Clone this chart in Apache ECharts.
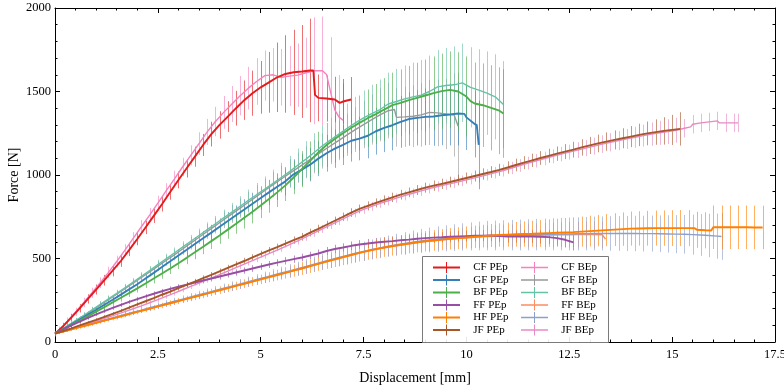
<!DOCTYPE html>
<html><head><meta charset="utf-8">
<script src="https://cdn.jsdelivr.net/npm/echarts@6/dist/echarts.min.js"></script>
<style>html,body{margin:0;padding:0;background:#fff}#c{width:784px;height:389px}</style>
</head><body><div id="c"></div>
<script>
// Each point: [displacement mm, mean force N, error half-width N]
const cfPE = [[0,50,18],[0.2,95,20],[0.4,147,22],[0.6,202,25],[0.8,258,28],[1.0,314,30],[1.2,370,32],[1.4,427,34],[1.6,485,35],[1.8,550,36],[2.0,617,38],[2.2,686,40],[2.4,755,42],[2.6,825,44],[2.8,898,46],[3.0,970,50],[3.2,1040,55],[3.4,1110,60],[3.6,1180,66],[3.8,1245,74],[4.0,1300,82],[4.2,1350,92],[4.4,1400,104],[4.6,1448,118],[4.8,1490,135],[5.0,1525,158],[5.2,1555,182],[5.4,1585,208],[5.6,1605,232],[5.8,1615,255],[6.0,1620,278],[6.2,1626,310],[6.28,1626,0],[6.32,1480,0],[6.4,1462,140],[6.6,1458,138],[6.8,1452,136],[6.92,1432,0],[7.0,1440,135],[7.2,1452,135]];
const gfPE = [[0,50,15],[0.2,78,16],[0.4,106,17],[0.6,135,18],[0.8,164,19],[1.0,193,20],[1.2,223,21],[1.4,253,22],[1.6,284,23],[1.8,315,24],[2.0,346,25],[2.2,380,27],[2.4,414,29],[2.6,449,31],[2.8,483,33],[3.0,518,35],[3.2,552,38],[3.4,587,41],[3.6,621,44],[3.8,655,47],[4.0,690,50],[4.2,724,54],[4.4,759,58],[4.6,793,62],[4.8,828,66],[5.0,862,70],[5.2,896,75],[5.4,930,80],[5.6,962,85],[5.8,1004,90],[6.0,1032,95],[6.2,1062,100],[6.4,1098,105],[6.6,1130,110],[6.8,1158,115],[7.0,1180,120],[7.2,1205,125],[7.4,1218,130],[7.6,1235,135],[7.8,1262,140],[8.0,1282,145],[8.2,1298,150],[8.4,1318,155],[8.6,1335,160],[8.8,1342,165],[9.0,1348,170],[9.2,1350,175],[9.4,1358,180],[9.6,1362,185],[9.8,1368,190],[9.95,1366,0],[10.0,1345,195],[10.2,1305,200],[10.25,1300,0],[10.3,1180,265]];
const bfPE = [[0,50,15],[0.2,76,16],[0.4,102,17],[0.6,128,18],[0.8,155,19],[1.0,182,20],[1.2,209,21],[1.4,237,22],[1.6,265,23],[1.8,293,24],[2.0,321,25],[2.2,350,27],[2.4,380,29],[2.6,410,31],[2.8,440,33],[3.0,472,35],[3.2,504,38],[3.4,537,41],[3.6,570,44],[3.8,604,47],[4.0,638,50],[4.2,673,55],[4.4,708,60],[4.6,744,65],[4.8,780,70],[5.0,818,76],[5.2,856,82],[5.4,896,88],[5.6,938,94],[5.8,985,100],[6.0,1035,108],[6.2,1085,116],[6.4,1135,124],[6.6,1180,132],[6.8,1215,140],[7.0,1250,148],[7.2,1283,156],[7.4,1312,164],[7.6,1340,172],[7.8,1365,180],[8.0,1392,188],[8.2,1418,195],[8.4,1432,200],[8.6,1448,205],[8.8,1462,210],[9.0,1476,215],[9.2,1490,220],[9.4,1502,225],[9.6,1510,230],[9.8,1500,235],[10.0,1470,240],[10.1,1442,0],[10.2,1428,245],[10.4,1418,250],[10.6,1402,255],[10.8,1385,260],[10.9,1368,265]];
const ffPE = [[0,50,8],[0.2,75,8],[0.4,99,9],[0.6,122,9],[0.8,144,10],[1.0,165,10],[1.2,185,11],[1.4,204,11],[1.6,222,12],[1.8,240,12],[2.0,257,13],[2.2,273,13],[2.4,289,14],[2.6,304,14],[2.8,318,15],[3.0,331,15],[3.2,344,16],[3.4,356,16],[3.6,368,17],[3.8,380,17],[4.0,392,18],[4.2,404,18],[4.4,416,19],[4.6,428,19],[4.8,440,20],[5.0,452,20],[5.2,464,21],[5.4,475,21],[5.6,486,22],[5.8,496,22],[6.0,506,23],[6.2,518,23],[6.4,530,24],[6.6,545,24],[6.8,557,25],[7.0,566,25],[7.2,576,26],[7.4,584,26],[7.6,590,27],[7.8,596,27],[8.0,600,28],[8.2,604,28],[8.4,609,29],[8.6,613,29],[8.8,618,30],[9.0,622,30],[9.2,625,31],[9.4,627,31],[9.6,630,32],[9.8,632,32],[10.0,634,33],[10.2,636,33],[10.4,637,34],[10.6,638,34],[10.8,634,35],[11.0,632,36],[11.2,632,37],[11.4,632,38],[11.6,632,39],[11.8,630,40],[12.0,628,42],[12.2,622,44],[12.4,612,46],[12.6,596,48]];
const hfPE = [[0,50,8],[0.2,63,8],[0.4,76,9],[0.6,89,9],[0.8,102,10],[1.0,115,10],[1.2,128,11],[1.4,141,11],[1.6,154,12],[1.8,167,12],[2.0,180,13],[2.2,193,14],[2.4,206,15],[2.6,219,16],[2.8,232,17],[3.0,245,18],[3.2,258,19],[3.4,271,20],[3.6,284,21],[3.8,297,22],[4.0,310,23],[4.2,323,24],[4.4,336,25],[4.6,349,26],[4.8,362,27],[5.0,375,28],[5.2,388,30],[5.4,401,32],[5.6,414,34],[5.8,427,36],[6.0,440,38],[6.2,454,40],[6.4,468,42],[6.6,482,44],[6.8,495,46],[7.0,508,48],[7.2,521,50],[7.4,534,52],[7.6,546,54],[7.8,556,55],[8.0,566,56],[8.2,574,57],[8.4,582,58],[8.6,590,59],[8.8,597,60],[9.0,603,61],[9.2,608,62],[9.4,613,63],[9.6,618,64],[9.8,622,65],[10.0,626,66],[10.2,630,67],[10.4,634,68],[10.6,638,69],[10.8,641,70],[11.0,643,72],[11.2,645,74],[11.4,647,76],[11.6,648,78],[11.8,650,80],[12.0,652,82],[12.2,654,84],[12.4,656,86],[12.6,658,88],[12.8,661,90],[13.0,664,92],[13.2,667,94],[13.4,670,96],[13.6,673,98],[13.8,676,100],[14.0,679,102],[14.2,680,103],[14.4,681,104],[14.6,682,105],[14.8,682,106],[15.0,682,107],[15.2,682,108],[15.4,682,108],[15.55,681,0],[15.6,672,108],[15.8,669,108],[15.95,668,0],[16.0,687,130],[16.2,687,130],[16.4,687,130],[16.6,687,130],[16.8,687,130],[17.0,686,130],[17.2,686,130]];
const jfPE = [[0,50,8],[0.2,66,8],[0.4,82,9],[0.6,99,9],[0.8,116,10],[1.0,133,10],[1.2,151,11],[1.4,169,11],[1.6,187,12],[1.8,206,12],[2.0,225,13],[2.2,244,13],[2.4,263,14],[2.6,283,14],[2.8,302,15],[3.0,322,15],[3.2,342,16],[3.4,362,16],[3.6,382,17],[3.8,402,17],[4.0,423,18],[4.2,444,18],[4.4,465,19],[4.6,485,19],[4.8,506,20],[5.0,527,20],[5.2,548,21],[5.4,568,21],[5.6,589,22],[5.8,610,22],[6.0,630,23],[6.2,655,23],[6.4,678,24],[6.6,702,24],[6.8,726,25],[7.0,750,25],[7.2,775,26],[7.4,797,26],[7.6,815,27],[7.8,833,27],[8.0,850,28],[8.2,866,28],[8.4,882,29],[8.6,896,29],[8.8,910,30],[9.0,924,30],[9.2,936,31],[9.4,947,31],[9.6,958,32],[9.8,970,32],[10.0,982,33],[10.2,994,33],[10.4,1006,34],[10.6,1018,35],[10.8,1031,36],[11.0,1045,37],[11.2,1060,38],[11.4,1074,39],[11.6,1088,40],[11.8,1102,41],[12.0,1115,42],[12.2,1128,43],[12.4,1140,45],[12.6,1152,47],[12.8,1165,49],[13.0,1177,51],[13.2,1189,53],[13.4,1200,55],[13.6,1210,57],[13.8,1220,60],[14.0,1230,63],[14.2,1240,67],[14.4,1249,71],[14.6,1257,76],[14.8,1264,82],[15.0,1270,90],[15.2,1276,100]];
const cfBE = [[0.1,72,20],[0.3,125,22],[0.5,180,25],[0.7,237,28],[0.9,295,30],[1.1,355,32],[1.3,417,34],[1.5,482,35],[1.7,550,36],[1.9,620,38],[2.1,690,40],[2.3,760,42],[2.5,832,44],[2.7,905,46],[2.9,975,50],[3.1,1048,55],[3.3,1118,60],[3.5,1188,68],[3.7,1258,78],[3.9,1320,88],[4.1,1375,98],[4.3,1425,108],[4.5,1475,118],[4.7,1520,128],[4.9,1560,140],[5.1,1595,150],[5.3,1600,160],[5.5,1585,170],[5.7,1592,180],[5.9,1598,190],[6.1,1612,210],[6.3,1624,320],[6.5,1624,325],[6.6,1602,0],[6.7,1495,330],[6.8,1390,0],[6.9,1348,250],[7.0,1328,220]];
const gfBE = [[0.1,64,15],[0.3,95,16],[0.5,126,17],[0.7,157,18],[0.9,189,19],[1.1,221,20],[1.3,253,21],[1.5,286,22],[1.7,319,23],[1.9,352,24],[2.1,386,25],[2.3,420,27],[2.5,454,29],[2.7,488,31],[2.9,522,33],[3.1,557,35],[3.3,592,38],[3.5,627,41],[3.7,662,44],[3.9,697,47],[4.1,732,50],[4.3,767,54],[4.5,802,58],[4.7,837,62],[4.9,872,66],[5.1,907,70],[5.3,942,75],[5.5,976,80],[5.7,1010,85],[5.9,1043,90],[6.1,1076,95],[6.3,1110,100],[6.5,1143,105],[6.7,1175,110],[6.9,1207,118],[7.1,1240,126],[7.3,1272,134],[7.5,1302,142],[7.7,1332,150],[7.9,1360,158],[8.1,1385,166],[8.25,1392,0],[8.3,1345,175],[8.5,1348,180],[8.7,1352,185],[8.9,1360,190],[9.1,1375,195],[9.3,1372,200],[9.5,1365,210],[9.7,1360,250],[9.8,1292,320]];
const bfBE = [[0.1,66,15],[0.3,97,16],[0.5,128,17],[0.7,160,18],[0.9,192,19],[1.1,225,20],[1.3,258,21],[1.5,291,22],[1.7,325,23],[1.9,359,24],[2.1,393,25],[2.3,428,27],[2.5,463,29],[2.7,498,31],[2.9,533,33],[3.1,568,35],[3.3,603,38],[3.5,638,41],[3.7,673,44],[3.9,708,47],[4.1,743,50],[4.3,778,55],[4.5,813,60],[4.7,848,65],[4.9,882,70],[5.1,915,76],[5.3,950,82],[5.5,985,88],[5.7,1020,94],[5.9,1058,100],[6.1,1095,108],[6.3,1135,116],[6.5,1175,124],[6.7,1210,132],[6.9,1245,140],[7.1,1280,148],[7.3,1312,156],[7.5,1342,164],[7.7,1368,172],[7.9,1392,180],[8.1,1425,188],[8.3,1440,195],[8.5,1456,200],[8.7,1468,205],[8.9,1478,210],[9.1,1500,215],[9.3,1528,220],[9.5,1536,225],[9.7,1540,230],[9.9,1552,235],[10.1,1525,240],[10.3,1508,245],[10.5,1490,250],[10.7,1468,255],[10.9,1422,260]];
const ffBE = [[0.1,56,8],[0.3,69,8],[0.5,82,9],[0.7,95,9],[0.9,108,10],[1.1,121,10],[1.3,134,11],[1.5,147,11],[1.7,160,12],[1.9,173,12],[2.1,186,13],[2.3,199,14],[2.5,212,15],[2.7,225,16],[2.9,238,17],[3.1,251,18],[3.3,264,19],[3.5,277,20],[3.7,290,21],[3.9,303,22],[4.1,316,23],[4.3,329,24],[4.5,342,25],[4.7,355,26],[4.9,368,27],[5.1,381,28],[5.3,394,30],[5.5,407,32],[5.7,420,34],[5.9,433,36],[6.1,446,38],[6.3,460,40],[6.5,474,42],[6.7,487,44],[6.9,500,46],[7.1,513,48],[7.3,526,50],[7.5,538,51],[7.7,549,52],[7.9,559,53],[8.1,568,54],[8.3,576,55],[8.5,584,56],[8.7,591,57],[8.9,598,58],[9.1,604,59],[9.3,609,60],[9.5,614,61],[9.7,618,62],[9.9,622,63],[10.1,625,64],[10.3,628,65],[10.5,631,66],[10.7,633,67],[10.9,635,68],[11.1,636,69],[11.3,637,70],[11.5,638,71],[11.7,639,72],[11.9,640,73],[12.1,641,74],[12.3,642,75],[12.5,642,76],[12.7,643,77],[12.9,643,78],[13.1,644,79],[13.3,642,80],[13.38,616,0]];
const hfBE = [[0.1,57,10],[0.3,70,10],[0.5,84,11],[0.7,97,11],[0.9,111,12],[1.1,124,12],[1.3,138,13],[1.5,151,14],[1.7,165,15],[1.9,178,16],[2.1,191,17],[2.3,205,18],[2.5,218,19],[2.7,231,20],[2.9,244,21],[3.1,257,22],[3.3,270,23],[3.5,283,24],[3.7,296,25],[3.9,309,26],[4.1,322,27],[4.3,335,28],[4.5,348,29],[4.7,361,30],[4.9,374,32],[5.1,387,34],[5.3,400,36],[5.5,413,38],[5.7,426,40],[5.9,439,42],[6.1,452,44],[6.3,466,46],[6.5,480,48],[6.7,493,50],[6.9,506,52],[7.1,519,54],[7.3,532,56],[7.5,543,58],[7.7,554,60],[7.9,564,62],[8.1,574,64],[8.3,582,66],[8.5,590,68],[8.7,598,70],[8.9,605,72],[9.1,611,74],[9.3,616,76],[9.5,621,78],[9.7,625,80],[9.9,629,82],[10.1,632,84],[10.3,635,86],[10.5,637,88],[10.7,638,89],[10.9,639,90],[11.1,640,91],[11.3,641,92],[11.5,642,93],[11.7,643,94],[11.9,644,95],[12.1,645,96],[12.3,646,97],[12.5,647,98],[12.7,648,99],[12.9,649,100],[13.1,650,101],[13.3,650,102],[13.5,650,103],[13.7,650,104],[13.9,650,105],[14.1,650,106],[14.3,649,107],[14.5,649,108],[14.7,648,110],[14.9,647,112],[15.1,646,114],[15.3,645,116],[15.5,643,120],[15.7,641,125],[15.9,638,130],[16.1,634,135],[16.2,632,140]];
const jfBE = [[0.1,57,8],[0.3,72,8],[0.5,87,9],[0.7,102,9],[0.9,117,10],[1.1,133,10],[1.3,149,11],[1.5,165,11],[1.7,182,12],[1.9,199,12],[2.1,216,13],[2.3,235,13],[2.5,254,14],[2.7,273,14],[2.9,293,15],[3.1,313,15],[3.3,333,16],[3.5,353,16],[3.7,373,17],[3.9,393,17],[4.1,414,18],[4.3,435,18],[4.5,456,19],[4.7,477,19],[4.9,498,20],[5.1,519,20],[5.3,540,21],[5.5,561,21],[5.7,583,22],[5.9,605,22],[6.1,629,23],[6.3,653,23],[6.5,677,24],[6.7,701,24],[6.9,725,25],[7.1,749,25],[7.3,773,26],[7.5,794,26],[7.7,812,27],[7.9,830,27],[8.1,846,28],[8.3,862,28],[8.5,877,29],[8.7,891,29],[8.9,905,30],[9.1,919,30],[9.3,931,31],[9.5,942,31],[9.7,953,32],[9.9,965,32],[10.1,977,33],[10.3,989,33],[10.5,1001,34],[10.7,1014,35],[10.9,1027,36],[11.1,1042,37],[11.3,1057,38],[11.5,1071,39],[11.7,1085,40],[11.9,1099,41],[12.1,1112,42],[12.3,1125,43],[12.5,1137,45],[12.7,1149,47],[12.9,1161,49],[13.1,1173,51],[13.3,1185,53],[13.5,1196,55],[13.7,1206,57],[13.9,1216,60],[14.1,1226,63],[14.3,1236,66],[14.5,1245,70],[14.7,1253,72],[14.9,1260,74],[15.1,1268,75],[15.3,1280,55],[15.45,1288,0],[15.5,1304,55],[15.7,1312,55],[15.9,1318,55],[16.1,1324,55],[16.15,1312,0],[16.3,1312,55],[16.5,1312,55],[16.6,1312,55]];

const seriesNames = ['CF PEp','GF PEp','BF PEp','FF PEp','HF PEp','JF PEp','CF BEp','GF BEp','BF BEp','FF BEp','HF BEp','JF BEp'];
const seriesData = [cfPE, gfPE, bfPE, ffPE, hfPE, jfPE, cfBE, gfBE, bfBE, ffBE, hfBE, jfBE];
const seriesColors = ['#e41a1c','#377eb8','#4daf4a','#984ea3','#ff7f00','#a65628','#f781bf','#999999','#66c2a5','#fc8d62','#8da0cb','#e78ac3'];
const xTickInterval = 2.5, xMin = 0, xMax = 17.5;
const yTickInterval = 500, yMin = 0, yMax = 2000;

const FONT = '"Liberation Serif","Times New Roman",serif';
const chart = echarts.init(document.getElementById('c'), null, {renderer: 'canvas'});

const series = [];
// draw the BEp groups first, the PEp groups on top
const drawOrder = [6, 7, 8, 9, 10, 11, 0, 1, 2, 3, 4, 5];
drawOrder.forEach(i => {
  const name = seriesNames[i];
  const d = seriesData[i];
  const col = seriesColors[i];
  const isPE = i < 6;
  series.push({
    type: 'custom', name: name + ' err', data: d, silent: true, clip: true,
    encode: {x: 0, y: 1}, z: 2,
    renderItem: (params, api) => {
      const e = api.value(2);
      if (!(e > 0)) return null;
      const x = api.value(0), y = api.value(1);
      const a = api.coord([x, y + e]), b = api.coord([x, y - e]);
      const px = Math.round(a[0]) + 0.5;
      return {type: 'line', shape: {x1: px, y1: a[1], x2: px, y2: b[1]},
        style: {stroke: col, lineWidth: 1, opacity: 0.62}};
    }
  });
  series.push({
    type: 'line', name: name, data: d.map(p => [p[0], p[1]]),
    showSymbol: false, symbol: 'none', color: col, z: 2, clip: true,
    lineStyle: {color: col, width: isPE ? 1.9 : 1.4}, emphasis: {disabled: true}
  });
});

function legendItems(list, thick) {
  return list.map(n => ({name: n, icon: thick ? 'path://M0,4.5h27v2h-27z M13,0h1v11h-1z' : 'path://M0,4.75h27v1.5h-27z M13,0h1v11h-1z'}));
}
const legendText = {fontFamily: FONT, fontSize: 11, color: '#000', lineHeight: 11};

const axisCommon = {
  axisLine: {onZero: false, lineStyle: {color: '#000', width: 1}},
  axisTick: {inside: true, length: 5, lineStyle: {color: '#000', width: 1}},
  minorTick: {show: true, splitNumber: 5, length: 2.5, lineStyle: {color: '#000', width: 1}},
  splitLine: {show: false}
};

chart.setOption({
  animation: false,
  backgroundColor: '#fff',
  grid: {left: 55, right: 9, top: 8, bottom: 47, containLabel: false, outerBoundsMode: 'none'},
  xAxis: [
    Object.assign({type: 'value', min: xMin, max: xMax, interval: xTickInterval, position: 'bottom',
      axisLabel: {fontFamily: FONT, fontSize: 12.5, color: '#000', margin: 6, formatter: v => String(v)},
      name: 'Displacement [mm]', nameLocation: 'middle', nameGap: 29, nameMoveOverlap: false,
      nameTextStyle: {fontFamily: FONT, fontSize: 14, color: '#000'}}, axisCommon),
    Object.assign({type: 'value', min: xMin, max: xMax, interval: xTickInterval, position: 'top',
      axisLabel: {show: false}}, axisCommon)
  ],
  yAxis: [
    Object.assign({type: 'value', min: yMin, max: yMax, interval: yTickInterval, position: 'left',
      axisLabel: {fontFamily: FONT, fontSize: 12.5, color: '#000', margin: 4, formatter: v => String(v)},
      name: 'Force [N]', nameLocation: 'middle', nameGap: 34, nameMoveOverlap: false,
      nameTextStyle: {fontFamily: FONT, fontSize: 14, color: '#000'}}, axisCommon),
    Object.assign({type: 'value', min: yMin, max: yMax, interval: yTickInterval, position: 'right',
      axisLabel: {show: false}}, axisCommon)
  ],
  graphic: [{
    type: 'rect', z: 15, silent: true,
    shape: {x: 422.5, y: 256.5, width: 186, height: 86},
    style: {fill: 'rgba(255,255,255,0.9)', stroke: '#7a7a7a', lineWidth: 1}
  }],
  legend: [
    {data: legendItems(seriesNames.slice(0, 6), true), orient: 'vertical', left: 433, top: 262, padding: 0,
     itemWidth: 27, itemHeight: 11, itemGap: 1.5, textStyle: legendText, selectedMode: false, z: 20,
     formatter: n => '\u00a0\u00a0\u00a0' + n},
    {data: legendItems(seriesNames.slice(6), false), orient: 'vertical', left: 521, top: 262, padding: 0,
     itemWidth: 27, itemHeight: 11, itemGap: 1.5, textStyle: legendText, selectedMode: false, z: 20,
     formatter: n => '\u00a0\u00a0\u00a0' + n}
  ],
  series: series
});
</script></body></html>
